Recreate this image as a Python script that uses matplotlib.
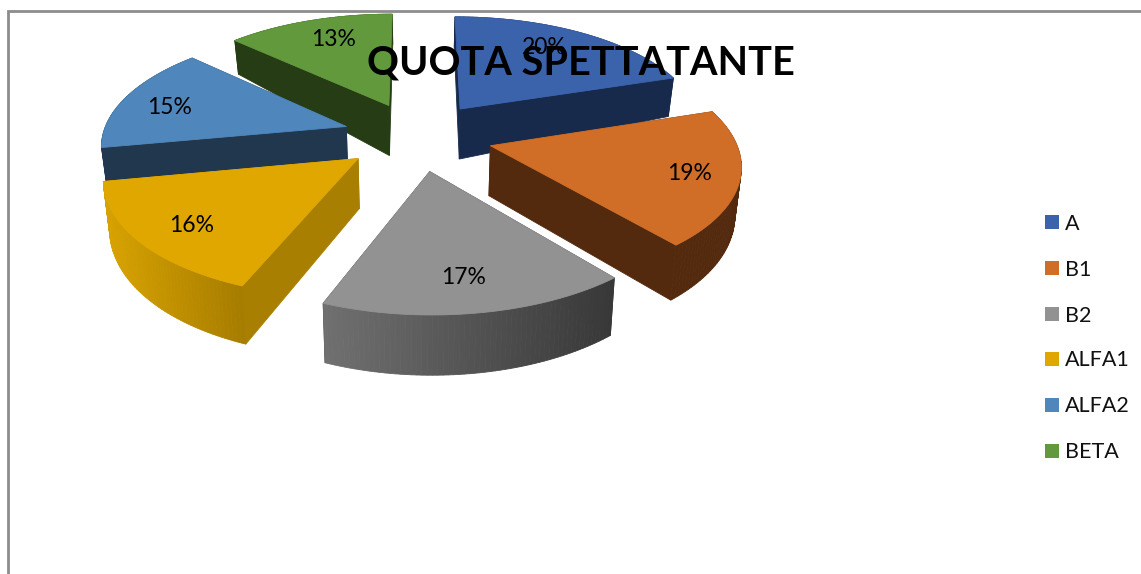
import numpy as np
import matplotlib
matplotlib.use("Agg")
import matplotlib.pyplot as plt
from matplotlib.patches import Polygon, Rectangle

categories = ["A", "B1", "B2", "ALFA1", "ALFA2", "BETA"]
values = [20, 19, 17, 16, 15, 13]
labels = ["20%", "19%", "17%", "16%", "15%", "13%"]
title = "QUOTA SPETTATANTE"

top_colors = ["#3A63AC", "#D06E28", "#929292", "#E0A700", "#4F86BB", "#61993C"]
wall_colors = ["#172A4B", "#542A0F", "#3A3A3A", "#A87F00", "#20374E", "#263C14"]
# rim shading, left end -> right end of the visible outer wall
rim_left = ["#172A4B", "#542A0F", "#707070", "#D8A300", "#20374E", "#263C14"]
rim_right = ["#172A4B", "#542A0F", "#383838", "#A67C00", "#20374E", "#263C14"]
label_xy = [(544, 48), (690, 174), (464, 278), (192, 226), (170, 108), (334, 40)]
draw_order = [5, 0, 4, 1, 3, 2]

W, H = 1141, 574
CX, CY, A, B, K, E, R = 417.5, 136, 115, 250, 0.144, 0.30, 0.975

plt.rcParams["font.family"] = ["Lato", "DejaVu Sans"]
fig = plt.figure(figsize=(W / 100, H / 100), dpi=100)
ax = fig.add_axes([0, 0, 1, 1])
ax.set_xlim(0, W)
ax.set_ylim(H, 0)
ax.axis("off")


def project(u, v, z=0.0, depth=None):
    s = 1 / (1 - K * v)
    x = CX + B * u * s * (1 - 0.02 * z)
    d = 45 + 12 * v if depth is None else depth
    y = CY + A * v * s + z * d
    return np.array([x, y])


def hex2rgb(c):
    return np.array(matplotlib.colors.to_rgb(c))


fractions = np.array(values) / sum(values)
edges = np.concatenate([[0], np.cumsum(fractions)]) * 2 * np.pi


def quad(p, color, z):
    ax.add_patch(Polygon(p, closed=True, facecolor=color, edgecolor=color, lw=0.6, zorder=z))


for rank, i in enumerate(draw_order):
    t0, t1 = edges[i], edges[i + 1]
    mid = (t0 + t1) / 2
    ou, ov = E * np.sin(mid), -E * np.cos(mid)
    th = np.linspace(t0, t1, 60)
    ru, rv = ou + R * np.sin(th), ov - R * np.cos(th)
    apex_t, apex_b = project(ou, ov), project(ou, ov, 1, depth=50)
    rim_t = np.array([project(a, b) for a, b in zip(ru, rv)])
    rim_b = np.array([project(a, b, 1) for a, b in zip(ru, rv)])
    z = 2 + rank
    # radial walls
    quad([apex_t, rim_t[0], rim_b[0], apex_b], wall_colors[i], z)
    quad([apex_t, rim_t[-1], rim_b[-1], apex_b], wall_colors[i], z)
    # outer wall with shading in strips
    xmin, xmax = rim_t[:, 0].min(), rim_t[:, 0].max()
    for j in range(len(th) - 1):
        f = ((rim_t[j, 0] + rim_t[j + 1, 0]) / 2 - xmin) / (xmax - xmin)
        col = hex2rgb(rim_left[i]) * (1 - f) + hex2rgb(rim_right[i]) * f
        quad([rim_t[j], rim_t[j + 1], rim_b[j + 1], rim_b[j]], col, z)
    # top face
    quad(np.vstack([[apex_t], rim_t]), top_colors[i], z + 0.5)

for lab, (x, y) in zip(labels, label_xy):
    ax.text(x, y, lab, fontsize=16.5, color="black", ha="center", va="center", zorder=20)

ax.text(581, 63, title, fontsize=28.5, fontweight="bold", color="black",
        ha="center", va="center", zorder=21)

legend_y = [222, 268, 314, 359, 405, 451]
for name, col, y in zip(categories, top_colors, legend_y):
    ax.add_patch(Rectangle((1045, y - 7), 14, 14, facecolor=col, edgecolor="none", zorder=5))
    ax.text(1065, y + 1.5, name, fontsize=15.5, color="#111111", ha="left", va="center", zorder=5)

ax.plot([8, 8, W], [H, 11, 11], color="#8C8C8C", lw=2.0, solid_joinstyle="miter", zorder=1)

fig.savefig("out.png", dpi=100)
